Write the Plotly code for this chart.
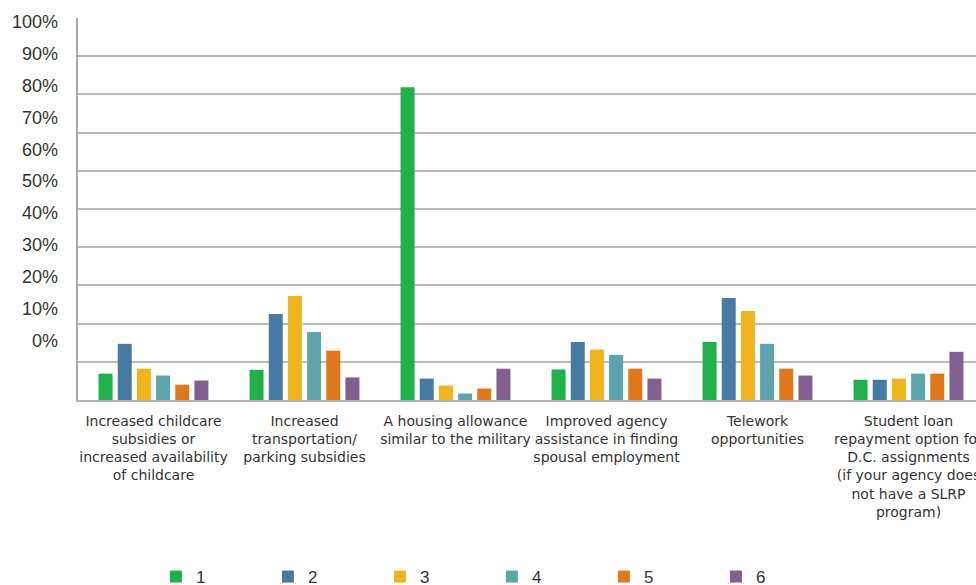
import plotly.graph_objects as go

categories = [
    "Increased childcare<br>subsidies or<br>increased availability<br>of childcare",
    "Increased<br>transportation/<br>parking subsidies",
    "A housing allowance<br>similar to the military",
    "Improved agency<br>assistance in finding<br>spousal employment",
    "Telework<br>opportunities",
    "Student loan<br>repayment option for<br>D.C. assignments<br>(if your agency does<br>not have a SLRP<br>program)",
]
series_names = ["1", "2", "3", "4", "5", "6"]
series_values = [
    [6.9, 7.9, 81.9, 8.0, 15.2, 5.3],
    [14.7, 22.5, 5.6, 15.2, 26.7, 5.3],
    [8.2, 27.2, 3.8, 13.2, 23.3, 5.6],
    [6.4, 17.8, 1.7, 11.8, 14.7, 6.9],
    [4.0, 12.9, 3.0, 8.2, 8.2, 6.9],
    [5.1, 5.9, 8.2, 5.6, 6.4, 12.6],
]
colors = ["#1fb04b", "#477ba4", "#f0b41e", "#5ea4ae", "#e0781b", "#835e90"]
tick_vals = [0, 10, 20, 30, 40, 50, 60, 70, 80, 90, 100]
tick_text = ["0%", "10%", "20%", "30%", "40%", "50%", "60%", "70%", "80%", "90%", "100%"]

W = 1000

fig = go.Figure()
for name, vals, col in zip(series_names, series_values, colors):
    fig.add_trace(go.Bar(x=categories, y=vals, name=name, marker_color=col,
                         marker_line_width=0))
fig.add_trace(go.Scatter(x=[], y=[], yaxis="y2", showlegend=False, hoverinfo="skip"))

fig.update_layout(
    width=W, height=585,
    margin=dict(l=77, r=W - 984, t=16, b=185, pad=0),
    paper_bgcolor="white", plot_bgcolor="white",
    barmode="group", bargap=0.238, bargroupgap=0.27,
    font=dict(family="Liberation Sans", color="#333333"),
    xaxis=dict(showline=True, linecolor="#b0b0b0", linewidth=2, ticks="",
               ticklabelstandoff=7,
               tickfont=dict(family="DejaVu Sans", size=14, color="#333333"), tickangle=0),
    yaxis=dict(range=[0, 100], tickvals=tick_vals, showgrid=True, gridcolor="#bababa",
               gridwidth=2, showticklabels=False, showline=True, linecolor="#a8a8a8",
               linewidth=2, zeroline=False, ticks=""),
    yaxis2=dict(overlaying="y", side="left", range=[-18.75, 101.25], tickmode="array",
                tickvals=tick_vals, ticktext=tick_text, showgrid=False, zeroline=False,
                showline=False, ticks="", ticklabelstandoff=19,
                tickfont=dict(size=18, color="#333333")),
    legend=dict(orientation="h", x=0.086, xanchor="left", yref="container",
                y=0.0137, yanchor="middle",
                entrywidth=67, entrywidthmode="pixels", font=dict(size=17, color="#333333"),
                traceorder="normal"),
    showlegend=True,
)

fig.write_html("out.html")
